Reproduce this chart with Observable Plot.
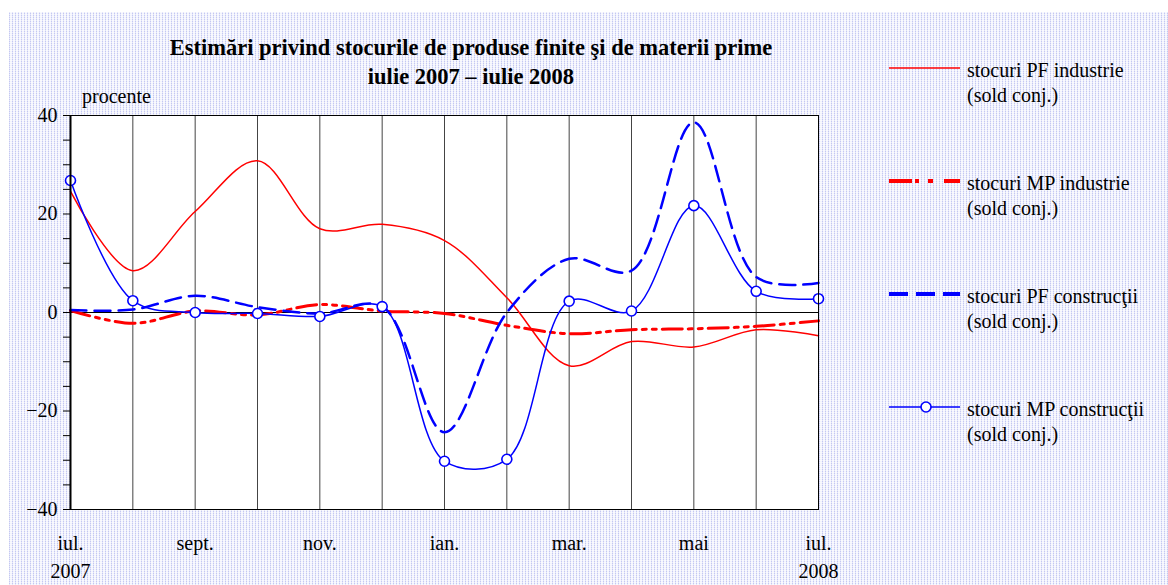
<!DOCTYPE html>
<html>
<head>
<meta charset="utf-8">
<script src="https://cdn.jsdelivr.net/npm/d3@7"></script>
<script src="https://cdn.jsdelivr.net/npm/@observablehq/plot@0.6"></script>
<style>
  html, body { margin: 0; padding: 0; width: 1168px; height: 585px; overflow: hidden; background: #fff; }
  #bg { position: absolute; left: 9px; top: 12px; right: 0; bottom: 0;
    background-image:
      repeating-linear-gradient(0deg, rgba(255,255,255,0.55) 0 1px, rgba(255,255,255,0) 1px 2px),
      repeating-linear-gradient(90deg, #c4c8f2 0 1px, #f3f4fd 1px 3px); }
  #chart { position: absolute; left: 0; top: 0; }
  #title { position: absolute; left: 0; width: 942px; top: 33px; text-align: center;
    font: bold 22.5px "Liberation Serif", "Times New Roman", serif; line-height: 29px; color: #000; }
  #unit { position: absolute; left: 82px; top: 85px; font: 20px "Liberation Serif", serif; color: #000; }
  .leg { position: absolute; left: 889px; }
  .leg svg { position: absolute; left: 0; top: 0; overflow: visible; }
  .leg div { position: absolute; left: 78px; top: -10px; width: 220px;
    font: 20px "Liberation Serif", serif; line-height: 25px; color: #000; white-space: nowrap; }
</style>
</head>
<body>
<div id="bg"></div>
<div id="chart"></div>
<div id="title">Estimări privind stocurile de produse finite şi de materii prime<br>iulie 2007 – iulie 2008</div>
<div id="unit">procente</div>
<div id="legend"></div>
<script>
// ---- data (monthly, July 2007 – July 2008) ----
const months = ["iul.", "aug.", "sept.", "oct.", "nov.", "dec.", "ian.", "feb.", "mar.", "apr.", "mai", "iun.", "iul."];
const years = ["2007", "", "", "", "", "", "", "", "", "", "", "", "2008"];
const labelledMonths = [0, 2, 4, 6, 8, 10, 12];
const pfIndustrie   = [24.6, 8.5, 20.5, 30.8, 17.0, 17.9, 14.6, 3.0, -10.8, -5.9, -7.0, -3.5, -4.7];
const mpIndustrie   = [0.4, -2.2, 0.3, -0.5, 1.6, 0.3, -0.2, -2.6, -4.3, -3.5, -3.3, -2.8, -1.7];
const pfConstructii = [0.5, 0.6, 3.4, 1.1, -0.2, 1.2, -24.3, 0.0, 10.9, 8.5, 38.6, 7.2, 6.0];
const mpConstructii = [26.8, 2.4, 0.0, -0.2, -0.8, 1.2, -30.2, -29.8, 2.3, 0.3, 21.7, 4.3, 2.8];
const seriesNames = [
  ["stocuri PF industrie", "(sold conj.)"],
  ["stocuri MP industrie", "(sold conj.)"],
  ["stocuri PF construcţii", "(sold conj.)"],
  ["stocuri MP construcţii", "(sold conj.)"]
];
const yTicks = d3.range(-40, 41, 5);
const yLabels = [-40, -20, 0, 20, 40];

// ---- styles ----
const RED = "#ff0000", BLUE = "#0000ff";
const styles = [
  {stroke: RED, strokeWidth: 1.5, dash: null},
  {stroke: RED, strokeWidth: 3, dash: "20,6,4,6,4,6"},
  {stroke: BLUE, strokeWidth: 2.5, dash: "16,8"},
  {stroke: BLUE, strokeWidth: 1.5, dash: null}
];

const toRows = arr => arr.map((v, i) => ({i, v}));
const allSeries = [pfIndustrie, mpIndustrie, pfConstructii, mpConstructii];

const marks = [
  Plot.frame({fill: "white", stroke: null}),
  Plot.ruleX(d3.range(months.length), {stroke: "#444", strokeWidth: 1}),
  Plot.ruleY([0], {stroke: "#000", strokeWidth: 1})
];
allSeries.forEach((s, k) => {
  marks.push(Plot.line(toRows(s), {
    x: "i", y: "v", curve: "catmull-rom",
    stroke: styles[k].stroke, strokeWidth: styles[k].strokeWidth,
    strokeDasharray: styles[k].dash
  }));
});
marks.push(Plot.dot(toRows(mpConstructii), {x: "i", y: "v", r: 5, fill: "white", stroke: BLUE, strokeWidth: 1.6}));
marks.push(Plot.frame({stroke: "#000", strokeWidth: 1}));
marks.push(Plot.ruleX([0], {stroke: "#000", strokeWidth: 2}));
marks.push(Plot.axisY({ticks: yTicks, tickSize: 7, tickPadding: 6,
  tickFormat: d => yLabels.includes(d) ? d3.format("")(d).replace("-", "−") : "",
  fontSize: 20, label: null}));
marks.push(Plot.axisX({ticks: labelledMonths, tickSize: 0, tickPadding: 21,
  tickFormat: i => years[i] ? months[i] + "\n" + years[i] : months[i],
  lineHeight: 1.4, fontSize: 20, label: null}));

const chart = Plot.plot({
  width: 850, height: 585,
  marginLeft: 70, marginRight: 32, marginTop: 115, marginBottom: 76,
  x: {domain: [0, 12]},
  y: {domain: [-40, 40]},
  style: {background: "transparent", fontFamily: "'Liberation Serif', 'Times New Roman', serif", fontSize: "20px", color: "#000", overflow: "visible"},
  marks
});
document.getElementById("chart").appendChild(chart);

// ---- legend ----
const legend = document.getElementById("legend");
seriesNames.forEach((nm, k) => {
  const y = 68 + 113 * k;
  const item = document.createElement("div");
  item.className = "leg";
  item.style.top = y + "px";
  const st = styles[k];
  const sw = k === 1 || k === 2 ? 4 : 1.5;
  let svg = `<svg width="72" height="1"><line x1="0" x2="71" y1="0" y2="0" stroke="${st.stroke}" stroke-width="${sw}" ${k === 1 ? 'stroke-dasharray="23,3,4,9,5,11,30"' : k === 2 ? 'stroke-dasharray="19,8"' : ''}/>`;
  if (k === 3) svg += `<circle cx="37" cy="0" r="5" fill="white" stroke="${BLUE}" stroke-width="1.6"/>`;
  svg += `</svg>`;
  item.innerHTML = svg + `<div>${nm[0]}<br>${nm[1]}</div>`;
  legend.appendChild(item);
});
</script>
</body>
</html>
